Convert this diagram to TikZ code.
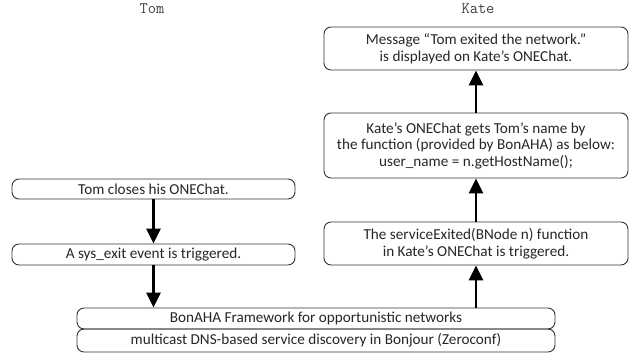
\documentclass[tikz,border=0pt]{standalone}
\usepackage{fontspec}
\setmainfont{Carlito}
\usetikzlibrary{arrows.meta}
\tikzset{
  box/.style={draw=black!80, line width=0.9pt, rounded corners=7pt, inner sep=0pt,
    align=center, text=black!85, font=\fontsize{15.2}{16.5}\selectfont},
  who/.style={font=\ttfamily\fontsize{16}{16}\selectfont, text=black!75},
  flow/.style={line width=2.6pt, -{Triangle[width=14pt,length=15pt]}},
}
\begin{document}
\begin{tikzpicture}[x=1pt,y=-1pt]
\useasboundingbox (0,0) rectangle (642,356);
\node[who] (tom) at (152,9) {Tom};
\node[who] (kate) at (478,9) {Kate};
\node[box, minimum width=304pt, minimum height=43pt] (kt) at (476,48.5)
  {Message “Tom exited the network.”\\is displayed on Kate’s ONEChat.};
\node[box, minimum width=304pt, minimum height=65pt] (km) at (476,145.5)
  {Kate’s ONEChat gets Tom’s name by\\the function (provided by BonAHA) as below:\\user\_name = n.getHostName();};
\node[box, minimum width=304pt, minimum height=43pt] (kl) at (476,243.5)
  {The serviceExited(BNode n) function\\in Kate’s ONEChat is triggered.};
\node[box, minimum width=283pt, minimum height=20pt] (tc) at (153.5,189)
  {Tom closes his ONEChat.};
\node[box, minimum width=283pt, minimum height=21pt] (ts) at (153.5,254.5)
  {A sys\_exit event is triggered.};
\node[box, minimum width=478pt, minimum height=21pt] (bon) at (316,318.5)
  {BonAHA Framework for opportunistic networks};
\node[box, minimum width=478pt, minimum height=23pt] (mc) at (316,340.5)
  {multicast DNS-based service discovery in Bonjour (Zeroconf)};
\draw[flow] (tc.south) -- (ts.north);
\draw[flow] (ts.south) -- (ts.south |- bon.north);
\draw[flow] (bon.north -| kl.south) -- (kl.north |- kl.south);
\draw[flow] (km.south |- kl.north) -- (km.south);
\draw[flow] (kt.south |- km.north) -- (kt.south);
\end{tikzpicture}
\end{document}
